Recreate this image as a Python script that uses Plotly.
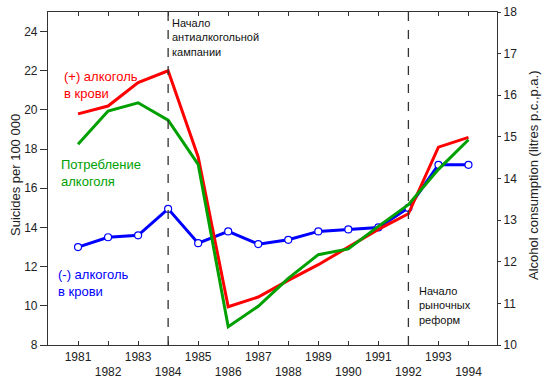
import plotly.graph_objects as go

years = list(range(1981, 1995))
suicides_plus = [19.8, 20.2, 21.4, 22.0, 17.6, 9.95, 10.45, 11.3, 12.1, 13.0, 13.9, 14.7, 18.1, 18.6]
suicides_minus = [13.0, 13.5, 13.6, 14.95, 13.2, 13.8, 13.15, 13.37, 13.8, 13.9, 14.0, 15.0, 17.2, 17.2]
alcohol = [14.82, 15.62, 15.82, 15.4, 14.34, 10.44, 10.93, 11.6, 12.17, 12.31, 12.85, 13.37, 14.22, 14.93]
tick_labels = [str(y) if y % 2 == 1 else "<br>" + str(y) for y in years]
event_years = [1984, 1992]

FONT = "Liberation Sans, Arial, sans-serif"
RED = "#ff0000"
GREEN = "#00a000"
BLUE = "#0000ff"

fig = go.Figure()
fig.add_trace(go.Scatter(x=years, y=suicides_minus, mode="lines+markers",
                         line=dict(color=BLUE, width=3),
                         marker=dict(symbol="circle", size=7, color="white",
                                     line=dict(color=BLUE, width=1.2)),
                         yaxis="y"))
fig.add_trace(go.Scatter(x=years, y=suicides_plus, mode="lines",
                         line=dict(color=RED, width=3), yaxis="y"))
fig.add_trace(go.Scatter(x=years, y=alcohol, mode="lines",
                         line=dict(color=GREEN, width=3), yaxis="y2"))

for ey in event_years:
    fig.add_shape(type="line", xref="x", yref="paper", x0=ey, x1=ey, y0=0, y1=1,
                  line=dict(color="#333333", width=1.3, dash="dash"))

fig.update_layout(
    width=550, height=384,
    margin=dict(l=48, r=53, t=12, b=39, autoexpand=False),
    paper_bgcolor="white", plot_bgcolor="white",
    showlegend=False,
    font=dict(family=FONT, size=12, color="#222222"),
    xaxis=dict(range=[1980.0, 1994.95], tickvals=years, ticktext=tick_labels,
               ticks="inside", ticklen=4, tickcolor="#333", showgrid=False,
               zeroline=False, showline=True, linecolor="#333", linewidth=1.2,
               mirror="ticks", automargin=False, tickfont=dict(size=12, color="#222")),
    yaxis=dict(range=[8, 25], tickvals=list(range(8, 25, 2)), ticks="outside",
               ticklen=7, tickcolor="#333", showgrid=False, zeroline=False,
               showline=True, linecolor="#333", linewidth=1.2, mirror=True,
               automargin=False,
               tickfont=dict(size=12, color="#222")),
    yaxis2=dict(range=[10, 18], tickvals=list(range(10, 19)), overlaying="y",
                side="right", ticks="outside", ticklen=3, tickcolor="#333",
                showgrid=False, zeroline=False, showline=True, linecolor="#333",
                linewidth=1.2, automargin=False,
                tickfont=dict(size=12, color="#222")),
)

ann_common = dict(xref="paper", yref="paper", showarrow=False, xanchor="left", yanchor="top", align="left")

# window pixel coordinates -> paper coordinates (plot area spans x 48..497, y 12..345)
def px(xp):
    return (xp - 48) / 449.0

def py(yp):
    return 1 - (yp - 12) / 333.0

# axis titles
fig.add_annotation(x=px(15), y=py(175), text="Suicides per 100 000", textangle=-90,
                   xref="paper", yref="paper", showarrow=False, xanchor="center", yanchor="middle",
                   font=dict(size=13, color="#222"))
fig.add_annotation(x=px(533), y=py(175), text="Alcohol consumption (litres p.c.,p.a.)", textangle=-90,
                   xref="paper", yref="paper", showarrow=False, xanchor="center", yanchor="middle",
                   font=dict(size=13, color="#222"))

fig.add_annotation(x=px(62), y=py(67), text="(+) алкоголь<br>в крови",
                   font=dict(color=RED, size=13), **ann_common)
fig.add_annotation(x=px(59), y=py(155), text="Потребление<br>алкоголя",
                   font=dict(color=GREEN, size=13), **ann_common)
fig.add_annotation(x=px(56), y=py(265), text="(-) алкоголь<br>в крови",
                   font=dict(color=BLUE, size=13), **ann_common)
fig.add_annotation(x=px(170), y=py(15), text="Начало<br>антиалкогольной<br>кампании",
                   font=dict(color="#111", size=11), **ann_common)
fig.add_annotation(x=px(417), y=py(283), text="Начало<br>рыночных<br>реформ",
                   font=dict(color="#111", size=11), **ann_common)

# remove the browser's default 8px body margin so the figure fills the window exactly
fig.write_html("out.html", config={"displayModeBar": False},
               post_script="document.body.style.margin='0px';")
